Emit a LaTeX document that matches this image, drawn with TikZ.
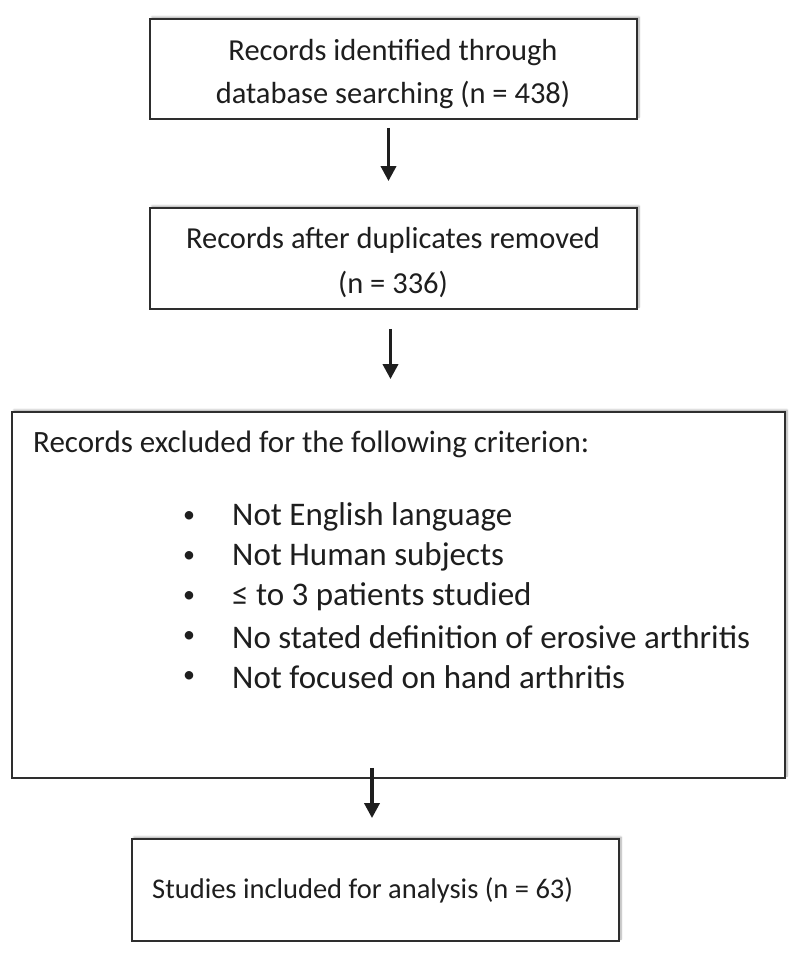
\documentclass[tikz,border=0pt]{standalone}
\usepackage{fontspec}
\setmainfont{Carlito}
\usetikzlibrary{arrows.meta,shadows.blur}
\definecolor{ink}{HTML}{1E1E1E}
\definecolor{frame}{HTML}{2E2E2E}
\tikzset{
  flowbox/.style={draw=frame, line width=1.8pt, fill=white, inner sep=0pt,
    blur shadow={shadow xshift=2pt, shadow yshift=2pt, shadow blur steps=6, shadow opacity=35},
    text=ink, align=center},
  txt/.style={text=ink, inner sep=0pt},
  arr/.style={draw=ink, line width=3.5pt, -{Triangle[width=15pt,length=15pt]}}
}
\begin{document}
\begin{tikzpicture}[x=1pt,y=-1pt]
\useasboundingbox (0,0) rectangle (800,953);
\node[flowbox, minimum width=487pt, minimum height=100pt] (b1) at (393.5,69) {};
\node[flowbox, minimum width=487pt, minimum height=101pt] (b2) at (393.5,258.5) {};
\node[flowbox, minimum width=773pt, minimum height=366pt] (b3) at (398.5,595) {};
\node[flowbox, minimum width=487pt, minimum height=102pt] (b4) at (375.5,890) {};
\begin{scope}[every node/.style={txt, font=\fontsize{30.5}{36}\selectfont}]
\node (l1) at (393,53) {Records identified through};
\node (l2) at (393,95) {database searching (n = 438)};
\node (l3) at (393,240) {Records after duplicates removed};
\node (l4) at (393,284) {(n = 336)};
\end{scope}
\node[txt, anchor=west, font=\fontsize{31}{36}\selectfont] (h) at (33,444) {Records excluded for the following criterion:};
\foreach \y/\t [count=\i] in {517/Not English language, 557/Not Human subjects, 597/≤ to 3 patients studied, 637/No stated definition of erosive arthritis, 677/Not focused on hand arthritis}{
  \node[txt, font=\fontsize{24}{28}\selectfont] (d\i) at (189,\y) {•};
  \node[txt, anchor=west, font=\fontsize{33}{38}\selectfont] (t\i) at (232,\y) {\t};
}
\node[txt, anchor=west, font=\fontsize{28.5}{34}\selectfont] (s) at (152,890) {Studies included for analysis (n = 63)};
\draw[arr, shorten <=8pt, shorten >=26pt] ([xshift=-5pt]b1.south) -- ([xshift=-5pt]b2.north);
\draw[arr, shorten <=19pt, shorten >=32pt] ([xshift=-3pt]b2.south) -- ([xshift=-3pt]b2.south |- b3.north);
\draw[arr, shorten >=20pt] ([xshift=-3.5pt,yshift=11pt]b4.north |- b3.south) -- ([xshift=-3.5pt]b4.north);
\end{tikzpicture}
\end{document}
